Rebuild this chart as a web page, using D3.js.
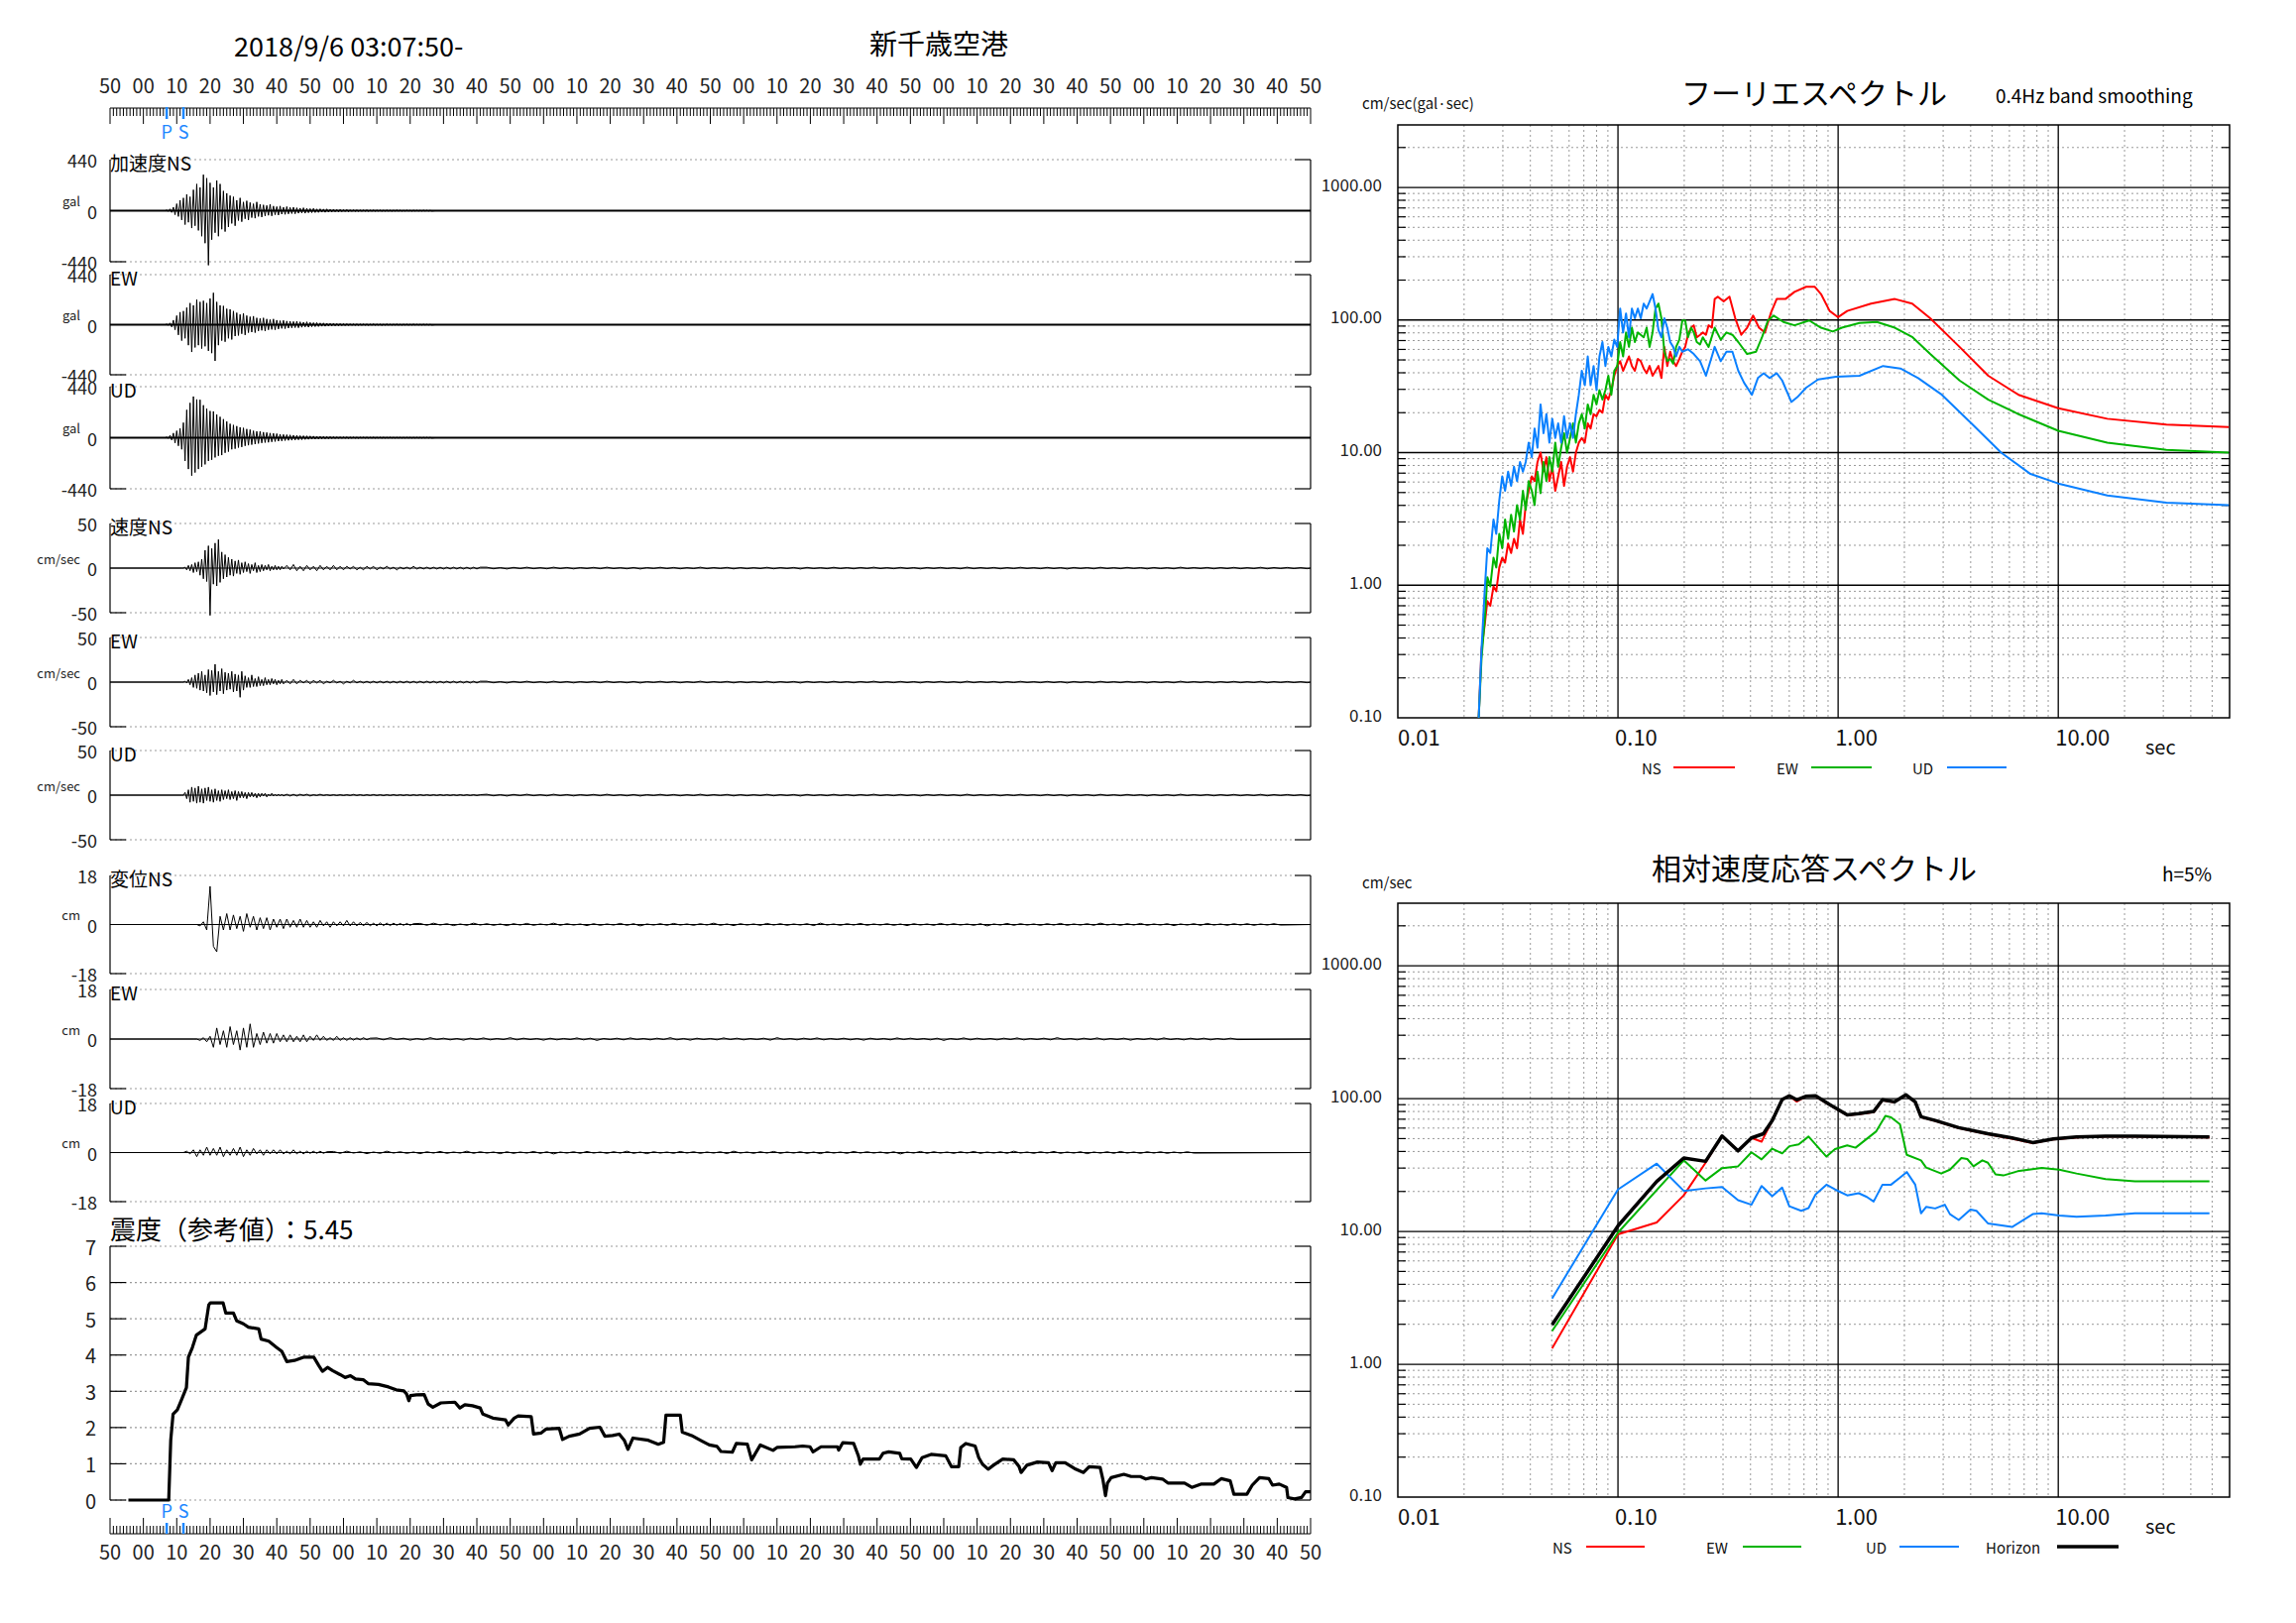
<!DOCTYPE html>
<html><head><meta charset="utf-8">
<script src="https://cdn.jsdelivr.net/npm/d3@7"></script>
<style>body{margin:0;background:#fff}svg{display:block}text{font-family:"Noto Sans CJK JP","DejaVu Sans",sans-serif}</style>
</head><body>
<svg id="c" width="2316" height="1637"></svg>
<script>
// ---------- DATA ----------
const timeLabels=["50","00","10","20","30","40","50","00","10","20","30","40","50","00","10","20","30","40","50","00","10","20","30","40","50","00","10","20","30","40","50","00","10","20","30","40","50"];
const pTime=17, sTime=22;
// acceleration envelopes (gal), 1-s bins starting at t=17 s
const accStart=17;
const accNS_up=[5,15,30,60,90,110,140,120,180,230,200,310,280,240,200,260,230,170,150,130,120,90,110,75,85,70,60,75,55,50,45,55,40,35,40,30,35,28,30,25,22,25,20,18,20,15,16,14,15,12,12,10,11,9,10,8,8,7,6,6,7,5,6,5,5,4,5,4,4,5,4,3,4,3,4,3,3,4,3,3];
const accNS_dn=[-5,-15,-35,-50,-80,-120,-100,-150,-130,-170,-220,-280,-470,-250,-190,-220,-160,-180,-140,-110,-130,-85,-95,-70,-80,-60,-65,-50,-55,-45,-40,-45,-35,-38,-30,-32,-28,-25,-27,-22,-20,-22,-18,-17,-16,-15,-13,-14,-12,-11,-10,-10,-9,-8,-9,-7,-7,-6,-6,-5,-6,-5,-5,-4,-5,-4,-4,-5,-3,-4,-4,-3,-3,-4,-3,-3,-3,-3,-3,-3];
const accEW_up=[5,15,40,80,110,120,150,190,170,220,200,210,190,230,280,200,170,165,140,135,120,105,90,100,80,70,75,60,55,60,50,45,50,40,35,38,32,30,28,30,25,22,25,20,18,18,15,15,13,12,12,10,10,9,9,8,7,7,6,6,6,5,7,5,5,4,6,4,4,5,3,4,4,3,5,3,3,4,3,3];
const accEW_dn=[-5,-20,-45,-90,-140,-120,-180,-240,-200,-180,-210,-190,-230,-250,-318,-180,-140,-150,-120,-130,-100,-95,-80,-90,-70,-65,-70,-55,-50,-55,-45,-42,-45,-38,-33,-35,-30,-28,-26,-27,-23,-20,-22,-18,-17,-16,-14,-14,-12,-11,-11,-10,-9,-9,-8,-7,-7,-6,-6,-5,-6,-5,-5,-4,-6,-4,-4,-4,-3,-4,-4,-3,-4,-3,-3,-3,-3,-3,-3,-3];
const accUD_up=[5,20,40,60,80,130,240,300,355,330,327,280,250,230,227,200,180,160,140,120,110,100,90,85,75,70,60,55,55,48,45,40,38,35,30,28,26,24,22,20,18,17,16,15,14,12,12,11,10,10,9,8,8,7,7,6,6,5,5,5,5,4,5,4,4,4,3,4,3,3,3,3,3,3,3,3,3,3,3,3];
const accUD_dn=[-5,-20,-45,-70,-100,-200,-270,-327,-300,-270,-250,-230,-200,-190,-170,-156,-150,-130,-120,-100,-95,-85,-80,-70,-65,-60,-55,-50,-45,-42,-40,-36,-33,-30,-28,-25,-23,-22,-20,-18,-17,-15,-14,-13,-12,-11,-10,-10,-9,-8,-8,-7,-7,-6,-6,-5,-5,-5,-4,-4,-4,-4,-4,-3,-4,-3,-3,-3,-3,-3,-3,-3,-3,-3,-3,-3,-3,-3,-3,-3];
// velocity (cm/s): head every 0.5 s from t=22, tail every 1 s from t=53, long tail every 2 s
const velHeadStart=22, velTailStart=53;
const velNS_head=[0,1,-2,3,-3,4,-5,6,-4,7,-8,10,-12,20,-15,25,-53,22,-18,28,-20,32,-16,18,-12,15,-10,12,-8,10,-9,8,-6,9,-7,6,-5,7,-4,5,-6,4,-3,6,-5,3,-4,4,-3,3,-2,4,-3,2,-2,3,-2,2,-2,2,-1];
const velNS_tail=[3,-2,4,-3,2,-3,3,-2,2,-3,3,-2,2,-2,3,-2,2,-2,2,-1,2,-2,1,-2,2,-1,2,-2,1,-1,2,-1,1,-2,1,-1,1,-1,2,-1,1,-1,1,-1,1,-1,1,-1,1,-1,1,-1,1,-1,1,-1,1,-1,1];
const velEW_head=[0,1,-1,3,-3,5,-6,8,-7,10,-9,12,-10,8,-12,14,-15,13,-11,20,-14,12,-10,15,-13,11,-9,10,-8,12,-11,9,-10,8,-17,12,-9,7,-6,5,-6,8,-5,4,-5,6,-4,3,-4,5,-3,3,-3,4,-2,3,-3,2,-2,3,-2];
const velEW_tail=[2,-2,3,-2,2,-1,2,-2,2,-1,2,-2,1,-1,2,-1,1,-2,1,-1,2,-1,1,-1,1,-1,1,-1,1,-1,1,-1,1,-1,1,-1,1,-1,1,-1,1,-1,1,-1,1,-1,1,-1,1,-1,1,-1,1,-1,1,-1,1,-1,1];
const velUD_head=[0,3,-4,6,-8,9,-7,8,-9,10,-8,7,-9,8,-6,9,-7,6,-8,7,-6,5,-7,6,-5,5,-4,6,-5,4,-4,5,-6,4,-3,4,-3,3,-4,3,-2,3,-2,2,-3,2,-2,2,-1,2,-2,1,-1,2,-1,1,-1,1,-1,1,-1];
const velUD_tail=[1,-1,1,-1,1,-0.5,1,-1,0.5,-0.5,1,-0.5,0.5,-0.5,0.5,-0.5,0.5,-0.5,0.5,-0.5,0.8,-0.5,0.6,-0.6,0.5,-0.5,0.7,-0.5,0.5,-0.6,0.5,-0.5,0.6,-0.5,0.5,-0.5,0.5,-0.6,0.5,-0.5,0.6,-0.5,0.5,-0.5,0.5,-0.5,0.6,-0.5,0.5,-0.5,0.5,-0.5,0.6,-0.5,0.5,-0.5,0.5,-0.5,0.5];
const velLongTail=[1,-0.8,0.6,-1,0.8,-0.6,1,-0.7,0.5,-0.8,1,-0.6,0.7,-0.9,0.6,-0.5,0.8,-0.7,1,-0.6,0.5,-0.8,0.7,-1,0.6,-0.5,0.9,-0.6,0.7,-0.8,0.5,-0.6,1,-0.7,0.6,-0.5,0.8,-0.9,0.6,-0.7,0.5,-0.6,0.9,-0.8,0.6,-0.5,0.7,-1,0.8,-0.6,0.5,-0.7,0.9,-0.6,0.6,-0.8,0.7,-0.5,1,-0.6,0.5,-0.7,0.8,-0.6,0.6,-0.9,0.7,-0.5,0.8,-0.6,0.5,-0.8,1,-0.7,0.6,-0.5,0.7,-0.8,0.6,-0.6,0.9,-0.5,0.5,-0.7,0.8,-0.6,0.6,-1,0.7,-0.5,0.6,-0.8,0.9,-0.6,0.5,-0.7,0.8,-0.5,0.6,-0.9,0.7,-0.6,0.5,-0.8,1,-0.6,0.6,-0.5,0.7,-0.8,0.6,-0.6,0.8,-0.7,0.5,-0.6,0.9,-0.8,0.6,-0.5,0.7,-0.6,0.5,-0.7];
// displacement (cm), every 1 s, long tail every 2 s
const dispNS_start=26, dispEW_start=26, dispUD_start=22;
const dispNS=[0,-0.5,1,-2,14,-8,-10,3,-2,4,-2,3.5,-1.5,3,-2.5,4,-1,3,-2,2.5,-1.5,2.5,-2,2,-1,2,-1.5,2,-1,1.5,-1,2,-1,1.5,-1,1,-1,1.5,-0.5,1,-1,1,-0.5,1,-0.5,1.5,-0.5,1,-0.5,0.8,-0.5,0.8,-0.5,0.5,-0.5,0.6,-0.4,0.5,-0.4,0.5,-0.3,0.4,-0.3,0.4,-0.3,0.3];
const dispEW=[0,-0.5,0.5,-1,1,-3,4,-2,3,-3,4.5,-2,3,-4,4,-3,5.5,-3,2,-2,2.5,-1.5,2,-1.5,2,-1,1.5,-1,1.5,-1,1,-1,1.5,-1,1,-0.5,1.5,-0.5,1,-0.5,0.5,-0.5,1,-0.5,0.5,-0.5,0.5,-0.4,0.4,-0.3,0.5,-0.3,0.3];
const dispUD=[0,0.5,-0.5,1,-1.5,1,-1,2,-1,1.5,-1,2,-1.5,1,-1,1.5,-1,2,-1.5,1,-1,1.5,-0.5,1,-1,1,-0.5,1,-0.5,1,-0.5,0.5,-0.5,1,-0.5,0.5,-0.5,0.5,-0.3,0.5,-0.3,0.5,-0.3,0.3];
const dispLongTail=[0.4,-0.3,0.5,-0.2,0.3,-0.4,0.2,-0.3,0.5,-0.2,0.3,-0.3,0.2,-0.4,0.3,-0.2,0.4,-0.3,0.2,-0.2,0.5,-0.3,0.3,-0.2,0.2,-0.4,0.3,-0.3,0.2,-0.2,0.4,-0.3,0.3,-0.5,0.2,-0.2,0.3,-0.3,0.4,-0.2,0.2,-0.3,0.3,-0.2,0.5,-0.3,0.2,-0.4,0.3,-0.2,0.2,-0.3,0.4,-0.2,0.3,-0.3,0.2,-0.2,0.3,-0.4,0.5,-0.2,0.2,-0.3,0.3,-0.2,0.4,-0.3,0.2,-0.2,0.3,-0.3,0.2,-0.4,0.3,-0.2,0.2,-0.3,0.4,-0.2,0.3,-0.2,0.2,-0.3,0.3,-0.5,0.2,-0.2,0.4,-0.3,0.3,-0.2,0.2,-0.3,0.3,-0.2,0.4,-0.3,0.2,-0.2,0.3,-0.3,0.5,-0.2,0.2,-0.3,0.3,-0.2,0.4,-0.3,0.2,-0.2,0.3,-0.4,0.2,-0.2,0.3,-0.3,0.4,-0.2,0.2,-0.3,0.3,-0.2,0.3,-0.3,0.2,-0.2,0.3,-0.2];
// seismic intensity
const intensityT=[5.5,17.6,18.2,18.9,20.2,21.4,22.9,23.5,24.7,25.9,28.5,29.6,30.1,33.9,34.7,37.0,38.0,40.0,41.5,44.6,45.3,47.6,49.9,51.5,53.0,55.3,58.0,61.1,62.6,63.7,65.2,66.7,69.0,70.5,72.1,73.6,75.9,77.4,80.5,83.5,85.8,88.1,88.9,89.6,90.1,91.9,94.2,95.4,96.8,99.2,103.4,104.9,106.4,108.7,111.0,111.8,114.8,118.6,119.4,121.2,122.4,126.3,127.0,129.3,130.8,134.7,135.7,137.7,140.8,143.8,146.9,148.4,150.7,152.7,154.2,155.3,156.8,161.4,164.4,166.0,166.7,171.0,171.6,174.4,177.4,179.7,182.0,183.2,186.6,187.8,191.1,192.4,195.0,198.8,200.0,205.4,207.7,209.9,210.8,213.2,218.1,218.5,219.7,223.0,224.4,225.0,225.8,230.7,231.8,233.5,236.8,237.4,240.1,241.8,243.5,246.2,250.6,252.3,254.5,255.1,256.6,259.4,260.5,261.6,263.3,264.9,267.7,271.0,272.6,273.2,274.9,278.1,281.4,282.5,283.6,286.4,289.2,291.9,293.6,296.9,297.7,298.5,299.1,300.2,304.0,306.2,308.9,310.6,312.3,315.6,317.2,322.2,324.4,327.1,331.0,333.2,335.9,337.0,340.9,342.5,344.7,347.5,348.6,350.6,352.8,353.2,355.2,357.3,358.5,360];
const intensityV=[0,0,1.65,2.37,2.49,2.76,3.10,3.94,4.21,4.55,4.72,5.38,5.44,5.44,5.16,5.16,4.94,4.86,4.77,4.72,4.44,4.38,4.21,4.10,3.82,3.85,3.94,3.94,3.71,3.55,3.66,3.57,3.46,3.38,3.43,3.34,3.32,3.21,3.19,3.12,3.04,3.01,2.93,2.74,2.88,2.90,2.91,2.65,2.56,2.68,2.70,2.54,2.63,2.60,2.54,2.37,2.26,2.21,2.07,2.26,2.32,2.30,1.82,1.85,1.96,1.98,1.67,1.76,1.82,1.98,2.01,1.76,1.78,1.82,1.65,1.40,1.71,1.65,1.54,1.59,2.34,2.34,1.87,1.78,1.63,1.52,1.48,1.34,1.32,1.56,1.54,1.11,1.52,1.37,1.45,1.47,1.49,1.47,1.33,1.47,1.47,1.38,1.58,1.56,1.22,0.99,1.13,1.13,1.29,1.33,1.29,1.14,1.13,0.90,1.17,1.26,1.22,0.92,0.92,1.45,1.56,1.49,1.17,0.99,0.85,0.96,1.13,1.11,0.92,0.76,0.96,1.05,1.03,0.81,1.03,1.03,0.87,0.76,0.92,0.90,0.58,0.12,0.47,0.62,0.71,0.65,0.65,0.58,0.62,0.58,0.47,0.47,0.35,0.44,0.44,0.59,0.53,0.16,0.16,0.41,0.62,0.59,0.41,0.44,0.35,0.07,0.03,0.07,0.23,0.23];
const intensityMax="5.45";
// Fourier spectra: shared period grid for the noisy short-period part
const fourierGridT=[0.0233,0.0240,0.0248,0.0255,0.0263,0.0272,0.0280,0.0289,0.0298,0.0307,0.0317,0.0327,0.0337,0.0348,0.0359,0.0370,0.0381,0.0393,0.0406,0.0418,0.0431,0.0445,0.0459,0.0473,0.0488,0.0503,0.0519,0.0535,0.0552,0.0569,0.0587,0.0606,0.0625,0.0644,0.0664,0.0685,0.0707,0.0729,0.0751,0.0775,0.0799,0.0824,0.0850,0.0877,0.0904,0.0933,0.0962,0.0992,0.1023,0.1055,0.1088,0.1122,0.1157,0.1193,0.1231,0.1269,0.1309,0.1350,0.1392,0.1436,0.1481,0.1527,0.1575,0.1624,0.1675,0.1727,0.1781,0.1837];
const fourierNS_grid=[0.1,0.33,0.50,0.76,0.70,0.98,0.90,1.36,1.61,1.48,2.06,1.75,2.24,1.90,3.13,2.44,4.02,5.15,6.62,6.10,8.50,10.0,7.19,9.24,6.10,7.82,5.15,6.62,8.50,5.61,7.82,9.24,7.19,10.0,11.9,12.9,11.9,16.6,15.2,19.5,18.8,21,20,27.3,25.1,29.6,38.0,45.0,48.9,41.4,46.9,53.1,45.0,41.4,50.9,48.9,43.1,39.7,45.0,38.0,41.4,45.0,36.5,62.7,45.0,57.7,48.9,45.0];
const fourierEW_grid=[0.1,0.28,0.54,1.15,0.98,1.61,1.36,2.44,1.90,3.13,2.24,3.40,2.54,4.02,3.13,5.15,3.70,6.10,5.15,4.02,7.19,4.94,8.50,6.10,9.24,7.19,11.9,7.82,10.9,14.0,10.0,12.9,16.6,11.9,16.6,19.5,15.2,23.1,19.5,27.3,23.1,29.6,25.1,29.6,38.0,27.3,41.4,45.0,68.2,53.1,80.5,62.7,87.5,68.2,80.5,77.3,74.1,87.5,62.7,80.5,122,133,103,57.7,48.9,50.9,46.9,62.7];
const fourierUD_grid=[0.1,0.33,0.90,1.90,1.75,3.13,2.44,4.37,6.62,5.15,7.19,5.61,7.82,6.10,8.50,7.19,8.50,11.9,9.24,15.2,10.9,23.1,14.0,19.5,11.9,18.0,12.9,16.6,11.9,18.8,12.9,16.6,12.9,19.5,27.3,41.4,32.2,53.1,32.2,45.0,29.6,53.1,68.2,45.0,62.7,53.1,71.1,62.7,122,80.5,112,74.1,122,103,122,103,133,122,138,157,122,84.0,74.1,103,87.5,68.2,62.7,53.1];
const fourierNS_T=[0.190,0.196,0.202,0.208,0.215,0.221,0.228,0.236,0.243,0.251,0.258,0.267,0.275,0.284,0.302,0.321,0.341,0.363,0.386,0.411,0.437,0.465,0.494,0.526,0.576,0.634,0.716,0.784,0.836,0.915,1.00,1.10,1.41,1.81,2.17,2.62,3.56,4.81,6.60,10.0,16.7,31.0,59.5];
const fourierNS_V=[50.9,57.7,62.7,77.3,87.5,91.2,74.1,77.3,80.5,77.3,91.2,87.5,144,150,138,150,103,77.3,87.5,108,87.5,80.5,112,144,144,163,178,178,157,117,105,117,133,144,133,103,62.7,38.0,27.3,21.6,18.0,16.3,15.6];
const fourierEW_T=[0.190,0.196,0.202,0.208,0.215,0.221,0.228,0.236,0.243,0.258,0.275,0.293,0.311,0.331,0.352,0.386,0.424,0.451,0.480,0.510,0.564,0.634,0.739,0.836,0.946,1.04,1.25,1.50,1.81,2.18,2.62,3.56,4.81,6.60,10.0,16.7,31.0,59.5];
const fourierEW_V=[71.1,99.2,99.2,74.1,87.5,80.5,68.2,65.4,74.1,62.7,87.5,71.1,80.5,77.3,68.2,55.4,57.7,74.1,99.2,108,96.7,91.2,99.2,87.5,81.9,87.5,95.1,96.7,87.5,74.1,55.4,35.0,25.1,19.5,14.6,11.9,10.5,10.0];
const fourierUD_T=[0.190,0.196,0.208,0.221,0.236,0.251,0.267,0.275,0.293,0.311,0.331,0.352,0.374,0.406,0.432,0.459,0.488,0.526,0.557,0.613,0.653,0.716,0.811,0.977,1.25,1.60,1.92,2.31,2.96,4.03,5.50,7.48,10.0,16.7,31.0,59.5];
const fourierUD_V=[62.7,57.7,60.1,55.4,48.9,38.0,53.1,62.7,48.9,57.7,57.7,41.4,33.6,27.3,36.5,39.7,36.5,39.7,35.0,24.1,26.2,30.9,35.6,37.4,38.0,45.0,43.1,36.5,27.3,16.6,10.0,6.90,5.85,4.75,4.19,4.02];
// relative velocity response spectra h=5%
const respH_T=[0.0502,0.100,0.150,0.199,0.250,0.297,0.351,0.404,0.458,0.502,0.557,0.600,0.649,0.712,0.790,0.910,1.10,1.24,1.45,1.59,1.80,2.03,2.24,2.38,2.76,3.53,4.79,6.17,7.66,9.50,12.1,16.4,22.3,48.6];
const respH_V=[1.98,11.0,23.8,35.7,33.7,52.3,40.4,50.6,54.4,68.4,98.4,105,98,104,105,90.6,75.5,77,80,98,94.5,106.8,94.5,73,68.5,60.5,54.4,50.6,46.7,49.8,51.4,52.2,52.2,51.4];
const respNS_T=[0.0502,0.100,0.150,0.199,0.250,0.297,0.351,0.404,0.449,0.502,0.557,0.600,0.649,0.712,0.790,0.910,1.10,1.24,1.45,1.59,1.80,2.03,2.24,2.38,2.76,3.53,4.79,6.17,7.66,9.50,12.1,16.4,22.3,48.6];
const respNS_V=[1.32,9.5,11.7,18.7,32.9,52.3,40.4,50.6,47.4,68.4,98.4,105,95,104,104,90,75,76.5,79,97,94,106,94,72.5,68,60,54,50,46.3,49.4,51,51.8,51.8,51];
const respEW_T=[0.0502,0.100,0.199,0.250,0.297,0.351,0.404,0.449,0.502,0.557,0.600,0.662,0.734,0.885,0.968,1.10,1.20,1.49,1.64,1.74,1.91,2.05,2.38,2.51,2.94,3.22,3.63,3.86,4.12,4.52,4.79,5.19,5.63,6.54,8.41,10.1,12.1,16.4,22.3,48.6];
const respEW_V=[1.78,9.8,34.3,24.2,30,30.9,39.4,34.9,42,38.7,43.8,45.2,51.8,36.6,41.7,44.5,42.7,56.7,74.1,72.2,64.1,37.8,34.3,30.3,27.3,29.2,35.7,35.1,30.9,34.3,32.9,26.9,26.4,28.4,30.1,29.2,27.3,24.8,23.8,23.8];
const respUD_T=[0.0502,0.100,0.150,0.199,0.250,0.297,0.351,0.404,0.449,0.502,0.557,0.600,0.68,0.734,0.790,0.885,0.968,1.10,1.24,1.35,1.45,1.59,1.74,1.91,2.05,2.24,2.38,2.51,2.76,3.05,3.22,3.53,3.99,4.25,4.79,6.17,7.66,8.41,10.1,12.1,16.4,22.3,48.6];
const respUD_V=[3.13,20.7,32.4,20.2,21.1,21.6,17.2,15.9,22.0,18.4,21.4,15.5,14.3,15.0,19.0,22.5,20.7,18.7,19.4,18.2,16.8,22.5,22.5,25.4,28.0,22.5,13.7,15.3,14.9,15.9,13.5,12.2,14.6,14.3,11.5,10.8,13.5,13.7,13.2,12.9,13.2,13.7,13.7];

// ---------- DRAW ----------
const svg=d3.select("#c");
const X0=111,X1=1322;
const x=d3.scaleLinear().domain([0,360]).range([X0,X1]);
function txt(g,xx,yy,s,size,anchor,color,extra){const t=g.append("text").attr("x",xx).attr("y",yy).attr("font-size",size).attr("text-anchor",anchor||"start").attr("dominant-baseline","central").attr("fill",color||"#000").text(s);if(extra)extra(t);return t;}
function hline(g,x1,x2,y,dotted,color,w){g.append("line").attr("x1",x1).attr("x2",x2).attr("y1",y).attr("y2",y).attr("stroke",color||"#000").attr("stroke-width",w||1.2).attr("stroke-dasharray",dotted?"2,3":null);}
function vline(g,xx,y1,y2,color,w,dash){g.append("line").attr("x1",xx).attr("x2",xx).attr("y1",y1).attr("y2",y2).attr("stroke",color||"#000").attr("stroke-width",w||1.2).attr("stroke-dasharray",dash||null);}

txt(svg,236,45,"2018/9/6 03:07:50-",27);
txt(svg,947,43,"新千歳空港",28,"middle");

function timeAxis(yBase,dir,labelY){
  const g=svg.append("g");
  hline(g,X0,X1,yBase,false,"#000",1.2);
  g.selectAll("line.t").data(d3.range(0,361,1)).enter().append("line")
   .attr("x1",d=>x(d)).attr("x2",d=>x(d)).attr("y1",yBase)
   .attr("y2",d=>yBase+dir*(d%10===0?16:8)).attr("stroke","#000").attr("stroke-width",1);
  timeLabels.forEach((s,i)=>txt(g,x(i*10),labelY,s,20,"middle","#222"));
}
timeAxis(109,1,85);
timeAxis(1547,-1,1564);
[[pTime,"P"],[sTime,"S"]].forEach(([t,s])=>{
  vline(svg,x(t),108,120,"#1e88ff",2.5);
  txt(svg,x(t),132,s,18,"middle","#1e88ff");
  vline(svg,x(t),1536,1547,"#1e88ff",2.5);
  txt(svg,x(t),1523,s,18,"middle","#1e88ff");
});

function panel(top,bot,maxV,unit,name,pts,sw){
  const g=svg.append("g");
  const y=d3.scaleLinear().domain([-maxV,maxV]).range([bot,top]);
  hline(g,X0,1306,top,true,"#999",1.2);
  hline(g,X0,1306,bot,true,"#999",1.2);
  vline(g,X0,top,bot);
  hline(g,X0,X0+16,bot);
  vline(g,X1,top,bot);
  hline(g,1306,X1,top);hline(g,1306,X1,bot);
  hline(g,X0,X1,y(0),false,"#000",sw);
  g.append("path").datum(pts).attr("fill","none").attr("stroke","#000").attr("stroke-width",1)
   .attr("d",d3.line().x(d=>x(d[0])).y(d=>y(d[1])));
  txt(g,98,top,String(maxV),18,"end","#222");
  txt(g,98,y(0),"0",18,"end","#222");
  txt(g,98,bot,String(-maxV),18,"end","#222");
  txt(g,81,y(0)-10,unit,13,"end","#222");
  txt(g,X0,top+2,name,19,"start","#000");
}
function envPts(up,dn,start){const p=[[0,0],[start-0.5,0]];up.forEach((u,i)=>{p.push([start+i,u]);p.push([start+i+0.5,dn[i]]);});p.push([start+up.length+0.5,0]);return p;}
function addLong(p,tEnd,longTail){longTail.forEach((v,i)=>{const t=tEnd+1+i*2;if(t<=359)p.push([t,v]);});p.push([360,0]);return p;}
function velPts(head,hs,tail,ts){const p=[[0,0],[hs-0.5,0]];head.forEach((v,i)=>p.push([hs+i*0.5,v]));tail.forEach((v,i)=>p.push([ts+i,v]));return addLong(p,ts+tail.length,velLongTail);}
function dispPts(arr,st){const p=[[0,0],[st-1,0]];arr.forEach((v,i)=>p.push([st+i,v]));return addLong(p,st+arr.length,dispLongTail);}

panel(161,264,440,"gal","加速度NS",envPts(accNS_up,accNS_dn,accStart),2.2);
panel(277,378,440,"gal","EW",envPts(accEW_up,accEW_dn,accStart),1.8);
panel(390,493,440,"gal","UD",envPts(accUD_up,accUD_dn,accStart),2.2);
panel(528,618,50,"cm/sec","速度NS",velPts(velNS_head,velHeadStart,velNS_tail,velTailStart),1.2);
panel(643,733,50,"cm/sec","EW",velPts(velEW_head,velHeadStart,velEW_tail,velTailStart),1.2);
panel(757,847,50,"cm/sec","UD",velPts(velUD_head,velHeadStart,velUD_tail,velTailStart),1.2);
panel(883,982,18,"cm","変位NS",dispPts(dispNS,dispNS_start),1);
panel(998,1098,18,"cm","EW",dispPts(dispEW,dispEW_start),1);
panel(1113,1212,18,"cm","UD",dispPts(dispUD,dispUD_start),1);

{
  const g=svg.append("g");
  const y=d3.scaleLinear().domain([0,7]).range([1513,1257]);
  d3.range(0,8).forEach(v=>{
    hline(g,X0,1306,y(v),true,"#999",1.2);
    hline(g,X0,X0+16,y(v));hline(g,1306,X1,y(v));
    txt(g,97,y(v),String(v),20,"end","#222");
  });
  vline(g,X0,y(7),y(0));vline(g,X1,y(7),y(0));
  txt(g,X0,1238,"震度（参考値）："+intensityMax,26,"start","#000");
  const pts=intensityT.map((t,i)=>[t,intensityV[i]]);
  g.append("path").datum(pts).attr("fill","none").attr("stroke","#000").attr("stroke-width",3.2).attr("stroke-linejoin","round")
   .attr("d",d3.line().x(d=>x(d[0])).y(d=>y(d[1])));
}

const SX0=1410,SX1=2249;
const sx=d3.scaleLog().domain([0.01,60]).range([SX0,SX1]);
function spectrum(top,bot,series,legend,legY,title,titleY,note,noteX,noteY,unit,unitY){
  const g=svg.append("g");
  const sy=d3.scaleLog().domain([0.1,2960]).range([bot,top]);
  const cid="clip"+top;
  g.append("defs").append("clipPath").attr("id",cid).append("rect").attr("x",SX0).attr("y",top).attr("width",SX1-SX0).attr("height",bot-top);
  [0.01,0.1,1,10].forEach(dec=>d3.range(2,10).forEach(m=>{const v=dec*m;if(v<60)vline(g,sx(v),top,bot,"#999",1,"2,3");}));
  [0.1,1,10,100,1000].forEach(dec=>d3.range(2,10).forEach(m=>{const v=dec*m;if(v<2960){hline(g,SX0,SX1,sy(v),true,"#999",1);hline(g,SX0,SX0+8,sy(v));hline(g,SX1-8,SX1,sy(v));}}));
  [0.1,1,10].forEach(v=>vline(g,sx(v),top,bot,"#000",1.3));
  [1,10,100,1000].forEach(v=>hline(g,SX0,SX1,sy(v),false,"#000",1.3));
  g.append("rect").attr("x",SX0).attr("y",top).attr("width",SX1-SX0).attr("height",bot-top).attr("fill","none").attr("stroke","#000").attr("stroke-width",1.5);
  [[1000,"1000.00"],[100,"100.00"],[10,"10.00"],[1,"1.00"],[0.1,"0.10"]].forEach(([v,s])=>txt(g,1394,sy(v)-4,s,17,"end","#222",t=>t.attr("font-family","DejaVu Sans")));
  [[0.01,"0.01"],[0.1,"0.10"],[1,"1.00"],[10,"10.00"]].forEach(([v,s])=>txt(g,sx(v)+(v===0.01?0:-3),bot+18,s,22,"start","#111",t=>t.attr("font-family","DejaVu Sans")));
  txt(g,2164,bot+28,"sec",20,"start","#111",t=>t.attr("font-family","DejaVu Sans"));
  const line=d3.line().x(d=>sx(d[0])).y(d=>sy(d[1]));
  series.forEach(s=>{
    g.append("path").datum(s.pts).attr("clip-path",`url(#${cid})`).attr("fill","none").attr("stroke",s.color).attr("stroke-width",s.w||2).attr("stroke-linejoin","round").attr("d",line);
  });
  legend.forEach(l=>{txt(g,l.tx,legY,l.name,15,"start","#111",t=>t.attr("font-family","DejaVu Sans Mono"));hline(g,l.x1,l.x2,legY,false,l.color,l.w||2);});
  txt(g,1830,titleY,title,30,"middle","#000");
  txt(g,noteX,noteY,note,19,"start","#000",t=>t.attr("font-family","DejaVu Sans"));
  txt(g,1374,unitY,unit,15,"start","#111",t=>t.attr("font-family","DejaVu Sans"));
}
const RED="#ff0000",GREEN="#00b400",BLUE="#0a80ff";
function zip(a,b){return a.map((t,i)=>[t,b[i]]);}
spectrum(126,724,[
  {pts:zip(fourierGridT,fourierNS_grid).concat(zip(fourierNS_T,fourierNS_V)),color:RED},
  {pts:zip(fourierGridT,fourierEW_grid).concat(zip(fourierEW_T,fourierEW_V)),color:GREEN},
  {pts:zip(fourierGridT,fourierUD_grid).concat(zip(fourierUD_T,fourierUD_V)),color:BLUE}],
  [{name:"NS",tx:1656,x1:1688,x2:1750,color:RED},{name:"EW",tx:1792,x1:1827,x2:1888,color:GREEN},{name:"UD",tx:1929,x1:1964,x2:2024,color:BLUE}],774,
  "フーリエスペクトル",92,"0.4Hz band smoothing",2013,95,"cm/sec(gal·sec)",103);
spectrum(911,1510,[
  {pts:zip(respNS_T,respNS_V),color:RED},
  {pts:zip(respEW_T,respEW_V),color:GREEN},
  {pts:zip(respUD_T,respUD_V),color:BLUE},
  {pts:zip(respH_T,respH_V),color:"#000",w:3.5}],
  [{name:"NS",tx:1566,x1:1600,x2:1659,color:RED},{name:"EW",tx:1721,x1:1758,x2:1817,color:GREEN},{name:"UD",tx:1882,x1:1916,x2:1976,color:BLUE},{name:"Horizon",tx:2003,x1:2075,x2:2137,color:"#000",w:3.5}],1560,
  "相対速度応答スペクトル",874,"h=5%",2181,880,"cm/sec",889);
</script>
</body></html>
